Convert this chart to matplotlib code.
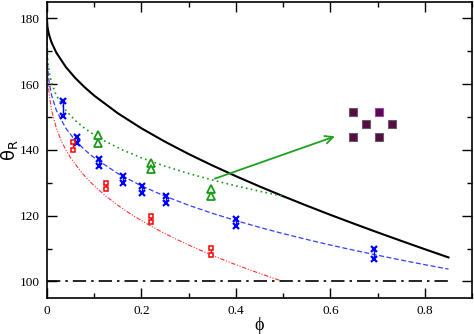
import matplotlib
matplotlib.use("Agg")
import matplotlib.pyplot as plt
from matplotlib.patches import Rectangle

plt.rcParams['font.family'] = 'serif'
plt.rcParams['font.serif'] = ['Liberation Serif', 'DejaVu Serif']
plt.rcParams['mathtext.fontset'] = 'dejavusans'

# curves (phi, theta_R)
phi_black = [0, 0.001, 0.0025, 0.005, 0.01, 0.02, 0.04, 0.06, 0.08, 0.1, 0.15, 0.2, 0.25,
             0.3, 0.35, 0.4, 0.45, 0.5, 0.55, 0.6, 0.65, 0.7, 0.75, 0.8, 0.85]
th_black = [180, 177.67, 176.32, 174.79, 172.63, 169.57, 165.23, 161.88, 159.05, 156.54,
            151.17, 146.59, 142.51, 138.77, 135.30, 132.03, 128.91, 125.94, 123.06,
            120.27, 117.57, 114.93, 112.35, 109.81, 107.32]

phi_blue = [0, 0.0001, 0.001, 0.003, 0.005, 0.01, 0.02, 0.04, 0.06, 0.08, 0.1, 0.15, 0.2,
            0.25, 0.3, 0.35, 0.4, 0.45, 0.5, 0.55, 0.6, 0.65, 0.7, 0.75, 0.8, 0.85]
th_blue = [180, 172.63, 166.87, 162.70, 160.32, 156.54, 152.02, 146.59, 142.90, 140.02,
           137.62, 132.85, 129.08, 125.94, 123.19, 120.74, 118.52, 116.47, 114.56,
           112.78, 111.09, 109.50, 107.98, 106.51, 105.11, 103.77]

phi_green = [0, 0.0002, 0.002, 0.005, 0.01, 0.02, 0.04, 0.06, 0.08, 0.1, 0.12, 0.16, 0.2,
             0.25, 0.3, 0.35, 0.4, 0.45, 0.5]
th_green = [180, 172.63, 166.87, 163.47, 160.32, 156.54, 152.02, 148.97, 146.59, 144.61,
            142.90, 140.02, 137.62, 135.06, 132.85, 130.87, 129.08, 127.45, 125.94]

phi_red = [0, 0.00005, 0.0005, 0.0015, 0.0025, 0.005, 0.01, 0.02, 0.03, 0.04, 0.05, 0.075,
           0.1, 0.125, 0.15, 0.175, 0.2, 0.225, 0.25, 0.275, 0.3, 0.325, 0.35, 0.375,
           0.4, 0.425, 0.45, 0.475, 0.5]
th_red = [180, 172.63, 166.87, 162.70, 160.32, 156.54, 152.02, 146.59, 142.90, 140.02,
          137.62, 132.85, 129.08, 125.94, 123.19, 120.74, 118.52, 116.47, 114.56,
          112.78, 111.09, 109.50, 107.98, 106.51, 105.11, 103.77, 102.47, 101.22, 100.0]

phi_flat = [0, 0.85]
th_flat = [100, 100]

# measured points: upper / lower ends of each bar
blue_phi = [0.033, 0.063, 0.11, 0.16, 0.202, 0.251, 0.401, 0.693]
blue_hi = [155, 144, 137.3, 132.1, 128.9, 126.0, 119.0, 109.9]
blue_lo = [150.2, 142.1, 135.1, 130.1, 127.0, 124.0, 117.0, 106.9]

red_phi = [0.056, 0.125, 0.221, 0.347]
red_hi = [142.4, 130.0, 120.0, 110.1]
red_lo = [140.1, 128.0, 118.2, 108.1]

green_phi = [0.109, 0.221, 0.347]
green_hi = [144.6, 136.1, 128.0]
green_lo = [142.1, 134.1, 126.0]

# inset: square pattern
sq_phi = [0.648, 0.703, 0.675, 0.730, 0.648, 0.703]
sq_th = [151.5, 151.5, 147.8, 147.8, 144.0, 144.0]

fig, ax = plt.subplots(figsize=(4.74, 3.34), dpi=100)
fig.subplots_adjust(left=0.099, right=0.996, bottom=0.108, top=0.994)

green = '#1a9a1a'
ax.plot(phi_black, th_black, color='black', lw=1.5)
ax.plot(phi_blue, th_blue, color='#3040ff', lw=0.9, ls=(0, (4, 2)))
ax.plot(phi_green, th_green, color=green, lw=1.2, ls=(0, (1, 2)))
ax.plot(phi_red, th_red, color='#ff3030', lw=0.8, ls=(0, (4, 1.5, 1, 1.5, 1, 1.5)))
ax.plot(phi_flat, th_flat, color='black', lw=1.2, ls=(0, (8, 3, 1.5, 3)))

ax.vlines(blue_phi, blue_lo, blue_hi, color='blue', lw=1)
ax.plot(blue_phi, blue_hi, 'x', color='blue', ms=4.5, mew=1.6)
ax.plot(blue_phi, blue_lo, 'x', color='blue', ms=4.5, mew=1.6)
ax.vlines(red_phi, red_lo, red_hi, color='red', lw=1)
ax.plot(red_phi, red_hi, 's', mfc='white', mec='red', ms=3.2, mew=1.1)
ax.plot(red_phi, red_lo, 's', mfc='white', mec='red', ms=3.2, mew=1.1)
ax.vlines(green_phi, green_lo, green_hi, color=green, lw=1)
ax.plot(green_phi, green_hi, '^', mfc='white', mec=green, ms=5.5, mew=1.3)
ax.plot(green_phi, green_lo, '^', mfc='white', mec=green, ms=5.5, mew=1.3)

ax.annotate('', xy=(0.615, 144.4), xytext=(0.35, 131.0),
            arrowprops=dict(arrowstyle='->', color='#20a020', lw=1.3, mutation_scale=14))

for i, (px, py) in enumerate(zip(sq_phi, sq_th)):
    ec = '#a040c0' if i == 1 else '#606060'
    ax.add_patch(Rectangle((px - 0.0085, py - 1.2), 0.017, 2.4,
                           facecolor='#5a0a45', edgecolor=ec, lw=0.8))

ax.set_xlim(0, 0.9)
ax.set_ylim(95, 185)
ax.set_xticks([0, 0.2, 0.4, 0.6, 0.8])
ax.set_xticklabels(['0', '0.2', '0.4', '0.6', '0.8'])
ax.set_xticks([0.1, 0.3, 0.5, 0.7, 0.9], minor=True)
ax.set_yticks([100, 120, 140, 160, 180])
ax.set_yticks([110, 130, 150, 170], minor=True)
ax.tick_params(which='both', direction='in', top=True, right=True, width=1,
               labelsize=9.5)
ax.tick_params(which='major', length=7, pad=5)
ax.tick_params(which='minor', length=3.5)
for s in ax.spines.values():
    s.set_linewidth(1.2)

ax.set_xlabel('ϕ', fontsize=13, labelpad=0)
ax.set_ylabel('θ$_{\\mathsf{R}}$', fontsize=13, family='DejaVu Sans', labelpad=0)

fig.savefig('out.png')
